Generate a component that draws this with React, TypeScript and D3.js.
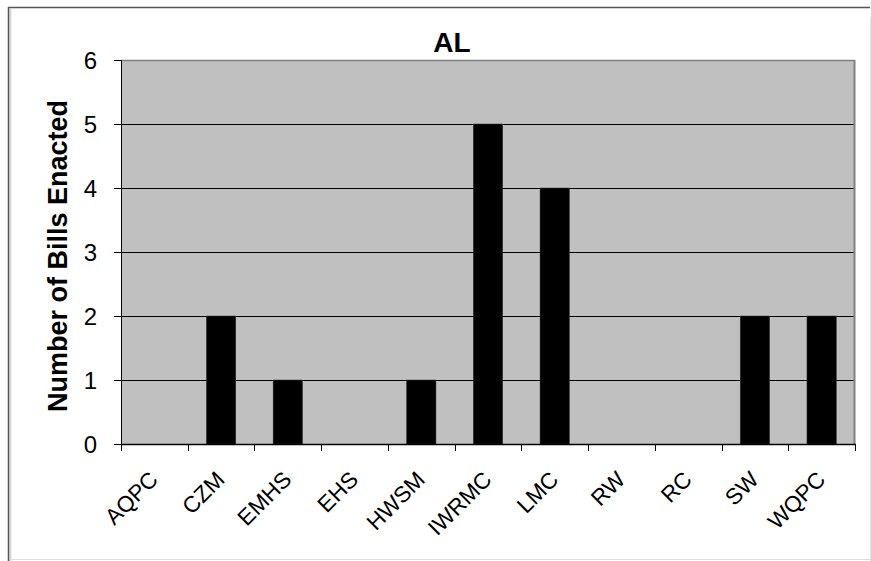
import React from "react";
import * as d3 from "d3";

const categories = ["AQPC", "CZM", "EMHS", "EHS", "HWSM", "IWRMC", "LMC", "RW", "RC", "SW", "WQPC"];
const billsEnacted = [0, 2, 1, 0, 1, 5, 4, 0, 0, 2, 2];
const yTicks = [0, 1, 2, 3, 4, 5, 6];
const title = "AL";
const yLabel = "Number of Bills Enacted";

const W = 871;
const H = 561;
const plot = { left: 121, right: 855, top: 60, bottom: 444 };

export default function App() {
  const x = d3
    .scaleBand<string>()
    .domain(categories)
    .range([plot.left, plot.right])
    .paddingInner(0.56)
    .paddingOuter(0.28);
  const y = d3.scaleLinear().domain([0, 6]).range([plot.bottom, plot.top]);
  const step = x.step();
  const boundaries = categories.map((c) => (x(c) as number) - (step * 0.56) / 2).concat([plot.right]);

  return (
    <svg
      width={W}
      height={H}
      style={{ position: "absolute", left: 0, top: 0, display: "block", background: "#fff" }}
      fontFamily="Arial, 'Liberation Sans', sans-serif"
    >
      {/* outer frame */}
      <rect x={8} y={7} width={863} height={554} fill="#fff" />
      <line x1={8} y1={7.5} x2={870} y2={7.5} stroke="#555" strokeWidth={1.5} />
      <line x1={8.5} y1={7} x2={8.5} y2={561} stroke="#555" strokeWidth={1.5} />
      <line x1={10} y1={9} x2={10} y2={561} stroke="#aaa" strokeWidth={1} />
      <line x1={11} y1={9} x2={11} y2={561} stroke="#ddd" strokeWidth={1} />
      <line x1={10} y1={559.5} x2={870} y2={559.5} stroke="#ddd" strokeWidth={1} />
      <line x1={870.5} y1={18} x2={870.5} y2={561} stroke="#e6e6e6" strokeWidth={1} />

      {/* plot area */}
      <rect x={plot.left} y={plot.top} width={plot.right - plot.left} height={plot.bottom - plot.top} fill="#c0c0c0" />
      {yTicks
        .filter((t) => t > 0 && t < 6)
        .map((t) => (
          <line key={t} x1={plot.left} x2={plot.right} y1={Math.round(y(t)) + 0.5} y2={Math.round(y(t)) + 0.5} stroke="#000" strokeWidth={1} />
        ))}
      <line x1={plot.left} x2={plot.right} y1={plot.top + 0.5} y2={plot.top + 0.5} stroke="#808080" strokeWidth={1.5} />
      <line x1={plot.right - 0.5} x2={plot.right - 0.5} y1={plot.top} y2={plot.bottom} stroke="#808080" strokeWidth={2} />

      {/* bars */}
      {categories.map((c, i) => (
        <rect
          key={c}
          x={x(c) as number}
          y={y(billsEnacted[i])}
          width={x.bandwidth()}
          height={plot.bottom - y(billsEnacted[i])}
          fill="#000"
          stroke="#333"
          strokeWidth={0.5}
        />
      ))}

      {/* y axis */}
      <line x1={plot.left + 0.5} x2={plot.left + 0.5} y1={plot.top} y2={plot.bottom + 7} stroke="#000" strokeWidth={1} />
      {yTicks.map((t) => (
        <g key={t}>
          <line x1={plot.left - 7} x2={plot.left} y1={Math.round(y(t)) + 0.5} y2={Math.round(y(t)) + 0.5} stroke="#000" />
          <text x={97} y={y(t)} dy="0.36em" textAnchor="end" fontSize={24} fill="#000">
            {t}
          </text>
        </g>
      ))}

      {/* x axis */}
      <line x1={plot.left} x2={plot.right + 1} y1={plot.bottom + 0.5} y2={plot.bottom + 0.5} stroke="#000" strokeWidth={1.5} />
      {boundaries.map((b, i) => (
        <line key={i} x1={Math.round(b) + 0.5} x2={Math.round(b) + 0.5} y1={plot.bottom} y2={plot.bottom + 7} stroke="#000" />
      ))}
      {categories.map((c) => {
        const cx = (x(c) as number) + x.bandwidth() / 2;
        return (
          <text
            key={c}
            transform={`translate(${cx + 5},${481}) rotate(-45)`}
            textAnchor="end"
            fontSize={22.5}
            fill="#000"
          >
            {c}
          </text>
        );
      })}

      {/* title */}
      <text x={452} y={52} textAnchor="middle" fontSize={28} fontWeight="bold" fill="#000">
        {title}
      </text>

      {/* y label */}
      <text transform={`translate(67,256) rotate(-90)`} textAnchor="middle" fontSize={27} fontWeight="bold" fill="#000">
        {yLabel}
      </text>
    </svg>
  );
}
